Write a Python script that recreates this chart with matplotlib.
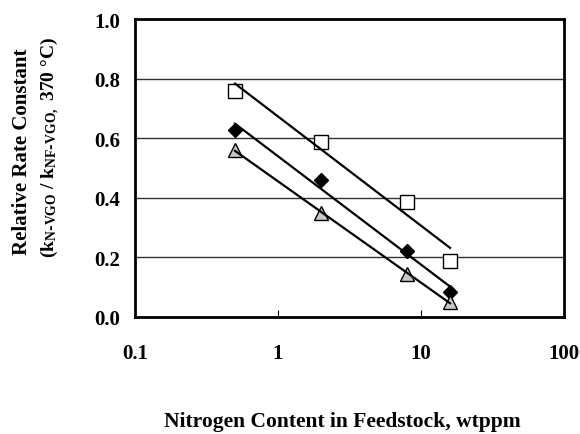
import numpy as np
import matplotlib
matplotlib.use("Agg")
import matplotlib.pyplot as plt

plt.rcParams['font.family'] = 'Liberation Serif'
plt.rcParams['font.weight'] = 'bold'
plt.rcParams['mathtext.default'] = 'regular'

nitrogen = [0.5, 2, 8, 16]
squares = [0.76, 0.587, 0.385, 0.188]
diamonds = [0.629, 0.46, 0.22, 0.083]
triangles = [0.56, 0.35, 0.145, 0.05]

fig = plt.figure(figsize=(5.8, 4.35), dpi=100)
ax = fig.add_axes([0.233, 0.269, 0.739, 0.685])

ax.set_xscale('log')
ax.set_xlim(0.1, 100)
ax.set_ylim(0, 1.0)
ax.set_yticks([0.0, 0.2, 0.4, 0.6, 0.8, 1.0])
ax.set_yticklabels(['%.1f' % v for v in ax.get_yticks()])
ax.set_xticks([0.1, 1, 10, 100])
ax.set_xticklabels(['0.1', '1', '10', '100'])
ax.minorticks_off()
ax.tick_params(axis='x', direction='in', length=5, width=0.8, pad=19, labelsize=15)
ax.tick_params(axis='y', length=0, pad=11, labelsize=15)
for s in ax.spines.values():
    s.set_linewidth(2)
ax.yaxis.grid(True, color='#333333', linewidth=1)
ax.set_axisbelow(True)

x_log = np.log10(nitrogen)
styles = [
    (squares, dict(marker='s', markersize=10, markerfacecolor='white', markeredgecolor='black', markeredgewidth=1)),
    (diamonds, dict(marker='D', markersize=7, markerfacecolor='black', markeredgecolor='black')),
    (triangles, dict(marker='^', markersize=10, markerfacecolor='#c8c8c8', markeredgecolor='black', markeredgewidth=1)),
]
for yvals, st in styles:
    ax.plot(nitrogen, yvals, linestyle='none', zorder=3, **st)
    slope, inter = np.polyfit(x_log, yvals, 1)
    ax.plot(nitrogen[::len(nitrogen) - 1], slope * x_log[::len(x_log) - 1] + inter,
            color='black', linewidth=1.6, zorder=4)

fig.text(0.038, 0.65, 'Relative Rate Constant', rotation=90, ha='center', va='center',
         fontsize=15, fontweight='bold')
fig.text(0.087, 0.66, r'(k$_{N\text{-}VGO}$ / k$_{NF\text{-}VGO,}$ 370 °C)', rotation=90,
         ha='center', va='center', fontsize=14, fontweight='bold')
fig.text(0.59, 0.03, 'Nitrogen Content in Feedstock, wtppm', ha='center', va='center',
         fontsize=15.5, fontweight='bold')

fig.savefig('out.png', dpi=100)
